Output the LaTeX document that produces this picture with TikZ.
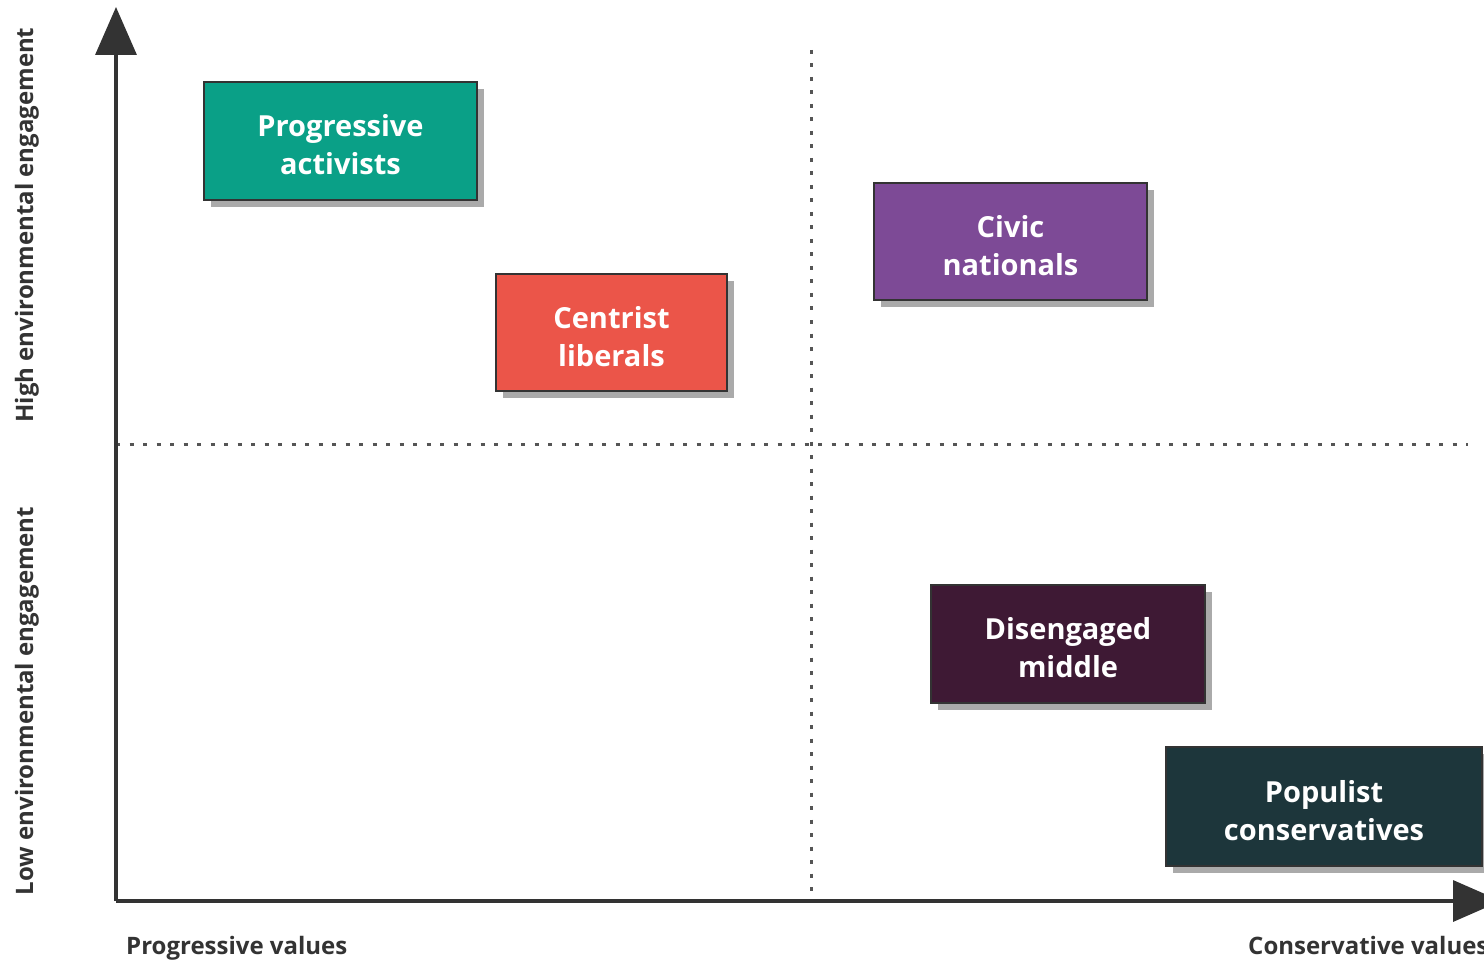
\documentclass[tikz,border=0pt]{standalone}
\usepackage{fontspec}
\setmainfont{Open Sans}
\usetikzlibrary{arrows.meta,shadows}
\definecolor{axiscol}{HTML}{333333}
\definecolor{dotcol}{HTML}{555555}
\definecolor{teal1}{HTML}{0AA087}
\definecolor{red1}{HTML}{EB5549}
\definecolor{purple1}{HTML}{7D4A96}
\definecolor{plum1}{HTML}{3E1934}
\definecolor{slate1}{HTML}{1D363B}
\definecolor{shadowcol}{HTML}{AAAAAA}
\tikzset{
  box/.style={draw=axiscol, line width=2.5pt, inner sep=0pt,
    drop shadow={shadow xshift=7pt, shadow yshift=-7pt, fill=shadowcol, opacity=1}},
  boxtext/.style={text=white, align=center, inner sep=0pt,
    font=\bfseries\fontsize{29}{38}\selectfont},
  axisline/.style={draw=axiscol, line width=3.5pt, -{Triangle[length=48pt,width=41pt]}},
  dotline/.style={draw=dotcol, line width=3pt, dash pattern=on 4pt off 9.5pt},
  axislabel/.style={text=axiscol, font=\bfseries\fontsize{24}{28}\selectfont, inner sep=0pt}
}
\begin{document}
\begin{tikzpicture}[x=1pt,y=-1pt]
\useasboundingbox (0,0) rectangle (1484,960);
\clip (0,0) rectangle (1484,960);
\fill[white] (0,0) rectangle (1484,960);
% dotted quadrant lines
\coordinate (vtop) at (811,50);
\coordinate (vbot) at (811,900);
\coordinate (hleft) at (116,444);
\coordinate (hright) at (1468,444);
\draw[dotline] (vtop) -- (vbot);
\draw[dotline] (hleft) -- (hright);
% axes
\coordinate (o) at (116,901);
\coordinate (ytip) at (116,7);
\coordinate (xtip) at (1501,901);
\draw[axisline] (o) -- (ytip);
\draw[axisline] (o) -- (xtip);
% boxes
\node[box, fill=teal1, minimum width=273pt, minimum height=118pt] (pa) at (340.5,141) {};
\node[box, fill=red1, minimum width=231pt, minimum height=117pt] (cl) at (611.5,332.5) {};
\node[box, fill=purple1, minimum width=273pt, minimum height=117pt] (cn) at (1010.5,241.5) {};
\node[box, fill=plum1, minimum width=274pt, minimum height=118pt] (dm) at (1068,644) {};
\node[box, fill=slate1, minimum width=316pt, minimum height=119pt] (pc) at (1324,806.5) {};
\node[boxtext] (pat) at ([yshift=-4pt]pa.center) {Progressive\\activists};
\node[boxtext] (clt) at ([yshift=-4pt]cl.center) {Centrist\\liberals};
\node[boxtext] (cnt) at ([yshift=-4pt]cn.center) {Civic\\nationals};
\node[boxtext] (dmt) at ([yshift=-4pt]dm.center) {Disengaged\\middle};
\node[boxtext] (pct) at ([yshift=-4pt]pc.center) {Populist\\conservatives};
% axis labels
\node[axislabel, rotate=90] (hi) at (27,225) {High environmental engagement};
\node[axislabel, rotate=90] (lo) at (27,701) {Low environmental engagement};
\node[axislabel, anchor=base west] (pv) at (126,954) {Progressive values};
\node[axislabel, anchor=base west] (cv) at (1248,954) {Conservative values};
\end{tikzpicture}
\end{document}
